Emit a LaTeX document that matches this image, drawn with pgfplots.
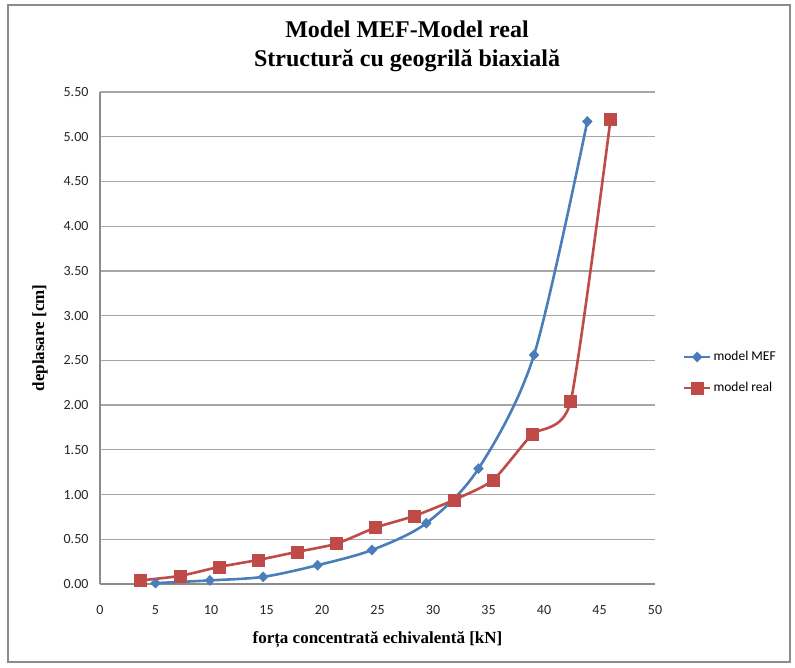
\documentclass[border=0pt]{standalone}
\usepackage{pgfplots}
\pgfplotsset{compat=1.18}
\usepackage{fontspec}
\setmainfont{Liberation Serif}
\newfontfamily\calibri{Carlito}
\definecolor{mefblue}{HTML}{4A7EBB}
\definecolor{realred}{HTML}{BE4B48}
\definecolor{gridgray}{HTML}{A6A6A6}
\definecolor{axgray}{HTML}{8C8C8C}
\begin{document}
\begin{tikzpicture}[x=1pt,y=1pt]
\useasboundingbox (-100,-84) rectangle (695,584);
\draw[axgray, line width=1.2pt] (-92,-78) rectangle (690,579);
\node[anchor=base, font=\bfseries\fontsize{24}{27}\selectfont] at (307,546) {Model MEF-Model real};
\node[anchor=base, font=\bfseries\fontsize{24}{27}\selectfont] at (307,517) {Structură cu geogrilă biaxială};
\begin{axis}[
  at={(0,0)}, anchor=south west, scale only axis,
  width=555pt, height=492pt,
  xmin=0, xmax=50, ymin=0, ymax=5.5,
  xtick={0,5,10,15,20,25,30,35,40,45,50},
  ytick={0,0.5,1,1.5,2,2.5,3,3.5,4,4.5,5,5.5},
  axis x line*=bottom, axis y line*=left,
  axis line style={axgray, line width=2pt},
  major tick length=0pt,
  ymajorgrids, grid style={gridgray, line width=1.3pt},
  clip=false,
  /pgf/number format/assume math mode=true,
  tick label style={font=\calibri\fontsize{14}{14}\selectfont, text=black!85},
  yticklabel style={/pgf/number format/fixed, /pgf/number format/fixed zerofill, /pgf/number format/precision=2, xshift=-8pt},
  xticklabel style={yshift=-18pt},
  xlabel={forța concentrată echivalentă [kN]},
  ylabel={deplasare [cm]},
  label style={font=\bfseries\fontsize{17}{17}\selectfont},
  xlabel style={at={(axis description cs:0.5,-0.114)}, anchor=center},
  ylabel style={at={(axis description cs:-0.108,0.5)}, anchor=center},
  legend style={draw=none, fill=none, at={(1.05,0.43)}, anchor=west,
    font=\calibri\fontsize{13.5}{13.5}\selectfont, row sep=16pt, inner sep=0pt},
  legend cell align=left,
  legend image code/.code={\draw[mark repeat=2,mark phase=2,#1] plot coordinates {(0pt,0pt)(13pt,0pt)(26pt,0pt)};},
]
\addplot[mefblue, line width=2.6pt, smooth, mark=diamond*, mark size=5pt, mark options={line width=0.5pt, xscale=1.3}]
  coordinates {(5,0.01) (9.9,0.04) (14.7,0.08) (19.6,0.21) (24.5,0.38) (29.4,0.68) (34.1,1.29) (39.1,2.56) (43.9,5.17)};
\addlegendentry{model MEF}
\addplot[realred, line width=2.6pt, smooth, tension=0.35, mark=square*, mark size=6pt, mark options={line width=0.5pt}]
  coordinates {(3.6,0.04) (7.2,0.09) (10.7,0.19) (14.3,0.27) (17.8,0.36) (21.3,0.45) (24.8,0.63) (28.3,0.76) (31.9,0.94) (35.4,1.16) (38.9,1.67) (42.4,2.04) (46.0,5.20)};
\addlegendentry{model real}
\end{axis}
\end{tikzpicture}
\end{document}
